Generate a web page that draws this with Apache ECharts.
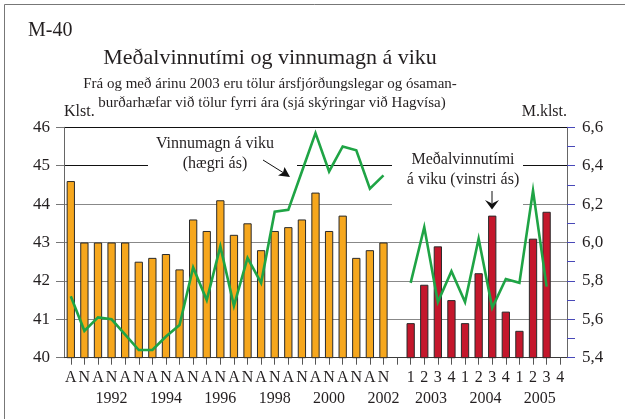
<!DOCTYPE html>
<html>
<head>
<meta charset="utf-8">
<script src="https://cdn.jsdelivr.net/npm/echarts@6/dist/echarts.min.js"></script>
<style>
  html, body { margin: 0; padding: 0; background: #fff; }
  #chart { width: 625px; height: 419px; }
</style>
</head>
<body>
<div id="chart"></div>
<script>
// Half-year figures 1991–2002 (A = apríl, N = nóvember)
const halfYears = [1991, 1992, 1993, 1994, 1995, 1996, 1997, 1998, 1999, 2000, 2001, 2002];
const halfLabels = ['A', 'N'];
// Meðalvinnutími á viku, klst. (left axis)
const halfYearHours = [44.6, 43.0, 43.0, 43.0, 43.0, 42.5, 42.6, 42.7, 42.3, 43.6, 43.3, 44.1,
                       43.2, 43.5, 42.8, 43.3, 43.4, 43.6, 44.3, 43.3, 43.7, 42.6, 42.8, 43.0];
// Vinnumagn á viku, milljónir klst. (right axis)
const halfYearVolume = [5.72, 5.54, 5.61, 5.60, 5.52, 5.44, 5.44, 5.51, 5.57, 5.87, 5.70, 5.98,
                        5.67, 5.92, 5.79, 6.16, 6.17, 6.37, 6.57, 6.37, 6.50, 6.48, 6.28, 6.35];

// Quarterly figures from 2003
const quarterYears = [2003, 2004, 2005];
const quarterLabels = ['1', '2', '3', '4'];
const quarterHours = [40.9, 41.9, 42.9, 41.5, 40.9, 42.2, 43.7, 41.2, 40.7, 43.1, 43.8];
const quarterVolume = [5.79, 6.08, 5.69, 5.85, 5.69, 6.02, 5.66, 5.81, 5.79, 6.27, 5.77];

// Years printed under the half-year part
const labelledHalfYears = [1992, 1994, 1996, 1998, 2000, 2002];

// ---- build category axis: half-years, one empty slot, quarters ----
const categories = [];
halfYears.forEach(() => halfLabels.forEach(l => categories.push(l)));
categories.push('');
const quarterStart = categories.length;
quarterYears.forEach(() => quarterLabels.forEach(l => categories.push(l)));

const n = categories.length;
const pad = (arr, start) => {
  const out = new Array(n).fill(null);
  arr.forEach((v, i) => { out[start + i] = v; });
  return out;
};
const orangeData = pad(halfYearHours, 0);
const redData = pad(quarterHours, quarterStart);
const volumeData = pad(halfYearVolume, 0);
quarterVolume.forEach((v, i) => { volumeData[quarterStart + i] = v; });

// Year label positions (in category index units)
const yearAt = {};
labelledHalfYears.forEach(y => {
  yearAt[(y - halfYears[0]) * 2 + 1] = String(y);
});
quarterYears.forEach((y, k) => {
  yearAt[quarterStart + k * 4 + 1.5] = String(y);
});

const serif = '"Liberation Serif", "Times New Roman", serif';
const textCol = '#231f20';

const chart = echarts.init(document.getElementById('chart'), null, { renderer: 'canvas' });

chart.setOption({
  animation: false,
  backgroundColor: '#fff',
  grid: { left: 64, right: 58, top: 127.3, bottom: 61.3, containLabel: false },
  xAxis: [
    {
      type: 'category',
      data: categories,
      boundaryGap: true,
      axisLine: { show: true, onZero: false, lineStyle: { color: '#3a3a3a', width: 1 } },
      axisTick: { show: true, alignWithLabel: true, length: 7, lineStyle: { color: '#555' } },
      axisLabel: { interval: 0, fontFamily: serif, fontSize: 16, color: textCol, margin: 12 },
      splitLine: { show: false }
    },
    {
      type: 'value',
      position: 'bottom',
      min: -0.5,
      max: n - 0.5,
      interval: 0.5,
      axisLine: { show: false, onZero: false },
      axisTick: { show: false },
      splitLine: { show: false },
      axisLabel: {
        show: true,
        margin: 33,
        fontFamily: serif,
        fontSize: 16,
        color: textCol,
        showMinLabel: true,
        showMaxLabel: true,
        formatter: v => yearAt[Math.round(v * 2) / 2] || ''
      }
    }
  ],
  yAxis: [
    {
      type: 'value',
      min: 40,
      max: 46,
      interval: 1,
      name: 'Klst.',
      nameLocation: 'end',
      nameGap: 8,
      nameTextStyle: { fontFamily: serif, fontSize: 16, color: textCol, align: 'left', verticalAlign: 'bottom' },
      axisLine: { show: true, onZero: false, lineStyle: { color: '#666', width: 1 } },
      axisTick: { show: true, length: 8, lineStyle: { color: '#777' } },
      axisLabel: { fontFamily: serif, fontSize: 17, color: textCol, margin: 14 },
      splitLine: {
        show: true,
        lineStyle: { color: ['#888', '#888', '#888', '#888', '#888', '#111', '#111'], width: 1 }
      }
    },
    {
      type: 'value',
      min: 5.4,
      max: 6.6,
      interval: 0.1,
      position: 'right',
      name: 'M.klst.',
      nameLocation: 'end',
      nameGap: 8,
      nameTextStyle: { fontFamily: serif, fontSize: 16, color: textCol, align: 'right', verticalAlign: 'bottom' },
      axisLine: { show: true, onZero: false, lineStyle: { color: '#666', width: 1 } },
      axisTick: { show: true, length: 8, lineStyle: { color: '#4848b8', width: 1 } },
      axisLabel: {
        fontFamily: serif, fontSize: 17, color: textCol, margin: 15,
        formatter: v => (Math.round(v * 10) % 2 === 0 ? v.toFixed(1).replace('.', ',') : '')
      },
      splitLine: { show: false }
    }
  ],
  series: [
    {
      name: 'Meðalvinnutími (hálfsárs)',
      type: 'bar',
      xAxisIndex: 0,
      yAxisIndex: 0,
      data: orangeData,
      barWidth: '61%',
      barGap: '-100%',
      itemStyle: { color: '#f6a71d', borderColor: '#2a2a2a', borderWidth: 1 },
      z: 3
    },
    {
      name: 'Meðalvinnutími (ársfjórðungs)',
      type: 'bar',
      xAxisIndex: 0,
      yAxisIndex: 0,
      data: redData,
      barWidth: '61%',
      barGap: '-100%',
      itemStyle: { color: '#c4172c', borderColor: '#2a2a2a', borderWidth: 1 },
      z: 3
    },
    {
      name: 'Vinnumagn',
      type: 'line',
      xAxisIndex: 0,
      yAxisIndex: 1,
      data: volumeData,
      connectNulls: false,
      symbol: 'none',
      lineStyle: { color: '#1fa445', width: 2.6, join: 'miter' },
      z: 4
    }
  ],
  graphic: [
    // frame
    { type: 'line', shape: { x1: 4.5, y1: 4.5, x2: 625, y2: 4.5 }, style: { stroke: '#777', lineWidth: 1 }, z: 0 },
    { type: 'line', shape: { x1: 4.5, y1: 4.5, x2: 4.5, y2: 419 }, style: { stroke: '#777', lineWidth: 1 }, z: 0 },
    // gaps in the grid lines behind the notes
    { type: 'rect', shape: { x: 148, y: 158, width: 149, height: 14 }, style: { fill: '#fff' }, z: 1 },
    { type: 'rect', shape: { x: 392, y: 158, width: 131, height: 50 }, style: { fill: '#fff' }, z: 1 },
    // headings
    { type: 'text', z: 5, style: { text: 'M-40', x: 28, y: 31, font: '20px ' + serif, fill: textCol, textAlign: 'left', textVerticalAlign: 'middle' } },
    { type: 'text', z: 5, style: { text: 'Meðalvinnutími og vinnumagn á viku', x: 270, y: 58, font: '22px ' + serif, fill: textCol, textAlign: 'center', textVerticalAlign: 'middle' } },
    { type: 'text', z: 5, style: { text: 'Frá og með árinu 2003 eru tölur ársfjórðungslegar og ósaman-', x: 270, y: 84, font: '15px ' + serif, fill: textCol, textAlign: 'center', textVerticalAlign: 'middle' } },
    { type: 'text', z: 5, style: { text: 'burðarhæfar við tölur fyrri ára (sjá skýringar við Hagvísa)', x: 272, y: 103, font: '15px ' + serif, fill: textCol, textAlign: 'center', textVerticalAlign: 'middle' } },
    // series notes
    { type: 'text', z: 5, style: { text: 'Vinnumagn á viku', x: 215, y: 144, font: '16px ' + serif, fill: textCol, textAlign: 'center', textVerticalAlign: 'middle' } },
    { type: 'text', z: 5, style: { text: '(hægri ás)', x: 215, y: 164, font: '16px ' + serif, fill: textCol, textAlign: 'center', textVerticalAlign: 'middle' } },
    { type: 'line', z: 5, shape: { x1: 263, y1: 160, x2: 283, y2: 172.5 }, style: { stroke: '#111', lineWidth: 1 } },
    { type: 'polygon', z: 5, shape: { points: [[290, 177], [278, 175.5], [283, 172.5], [284.5, 167]] }, style: { fill: '#111' } },
    { type: 'text', z: 5, style: { text: 'Meðalvinnutími', x: 463, y: 160, font: '16px ' + serif, fill: textCol, textAlign: 'center', textVerticalAlign: 'middle' } },
    { type: 'text', z: 5, style: { text: 'á viku (vinstri ás)', x: 463, y: 180, font: '16px ' + serif, fill: textCol, textAlign: 'center', textVerticalAlign: 'middle' } },
    { type: 'line', z: 5, shape: { x1: 492, y1: 191, x2: 492, y2: 203 }, style: { stroke: '#111', lineWidth: 1 } },
    { type: 'polygon', z: 5, shape: { points: [[492, 209.5], [485, 200], [492, 203.5], [499, 200]] }, style: { fill: '#111' } }
  ]
});
</script>
</body>
</html>
